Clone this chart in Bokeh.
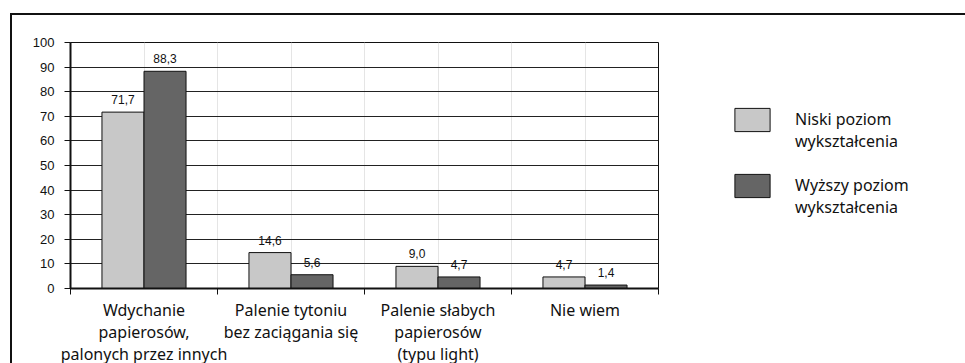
from bokeh.plotting import figure
from bokeh.models import (ColumnDataSource, Range1d, LinearAxis,
                          FixedTicker, Legend, LegendItem)
from bokeh.transform import dodge
from bokeh.core.properties import value
from bokeh.embed import file_html
from bokeh.resources import INLINE

# Survey answers and the share (%) for each education level
categories = [
    "Wdychanie\npapierosów,\npalonych przez innych",
    "Palenie tytoniu\nbez zaciągania się",
    "Palenie słabych\npapierosów\n(typu light)",
    "Nie wiem",
]
niski = [71.7, 14.6, 9.0, 4.7]
wyzszy = [88.3, 5.6, 4.7, 1.4]
series_names = ["Niski poziom\nwykształcenia", "Wyższy poziom\nwykształcenia"]
y_ticks = [0, 10, 20, 30, 40, 50, 60, 70, 80, 90, 100]


def fmt(v):
    return f"{v:.1f}".replace(".", ",")


n = len(categories)
centers = [i + 0.5 for i in range(n)]          # middle of each category slot
edges = list(range(n + 1))                      # slot boundaries

src = ColumnDataSource(dict(
    x=centers,
    niski=niski,
    wyzszy=wyzszy,
    niski_lbl=[fmt(v) for v in niski],
    wyzszy_lbl=[fmt(v) for v in wyzszy],
))

LIGHT = "#c8c8c8"
DARK = "#656565"
TEXT_FONT = "Noto Sans"
NUM_FONT = "Liberation Sans"

p = figure(
    x_range=Range1d(0, n),
    y_range=Range1d(0, 100),
    x_axis_location=None,
    frame_width=588, frame_height=246,
    min_border_left=58, min_border_right=307,
    min_border_top=27, min_border_bottom=75,
    output_backend="svg", toolbar_location=None,
    styles={"border-top": "2px solid #111", "border-left": "2px solid #111",
            "margin-left": "10px", "margin-top": "13px"},
)
p.outline_line_color = "#111"
p.outline_line_width = 1

# value axis
yax = p.yaxis[0]
yax.ticker = FixedTicker(ticks=y_ticks)
yax.minor_tick_line_color = None
yax.major_tick_in = 0
yax.major_tick_out = 6
yax.axis_line_width = 2
yax.axis_line_color = "#111"
yax.major_tick_line_color = "#111"
yax.major_label_text_font = NUM_FONT
yax.major_label_text_font_size = "13px"
yax.major_label_text_color = "#111"
yax.major_label_standoff = 10

p.ygrid.ticker = FixedTicker(ticks=y_ticks)
p.ygrid.grid_line_color = "#222"
p.ygrid.grid_line_width = 1

# ticks on the boundaries between groups
edge_axis = LinearAxis(ticker=FixedTicker(ticks=edges))
edge_axis.major_label_overrides = {e: "" for e in edges}
edge_axis.major_label_text_font_size = "1px"
edge_axis.major_label_standoff = 0
edge_axis.minor_tick_line_color = None
edge_axis.major_tick_in = 0
edge_axis.major_tick_out = 6
edge_axis.axis_line_width = 2
edge_axis.axis_line_color = "#111"
edge_axis.major_tick_line_color = "#111"
p.add_layout(edge_axis, "below")

# group names centred in each slot
cat_axis = LinearAxis(ticker=FixedTicker(ticks=centers))
cat_axis.major_label_overrides = {c: name for c, name in zip(centers, categories)}
cat_axis.axis_line_color = None
cat_axis.major_tick_line_color = None
cat_axis.minor_tick_line_color = None
cat_axis.major_tick_out = 0
cat_axis.major_tick_in = 0
cat_axis.major_label_standoff = 4
cat_axis.major_label_text_font = TEXT_FONT
cat_axis.major_label_text_font_size = "16px"
cat_axis.major_label_text_color = "#111"
cat_axis.major_label_text_line_height = 1.0
p.add_layout(cat_axis, "below")

bw = 0.286
r1 = p.vbar(x=dodge("x", -bw / 2), top="niski", width=bw,
            source=src, fill_color=LIGHT, line_color="#111", line_width=1)
r2 = p.vbar(x=dodge("x", bw / 2), top="wyzszy", width=bw,
            source=src, fill_color=DARK, line_color="#111", line_width=1)

for col, lbl, off in (("niski", "niski_lbl", -bw / 2), ("wyzszy", "wyzszy_lbl", bw / 2)):
    p.text(x=dodge("x", off), y=col, text=lbl, source=src,
           text_align="center", text_baseline="bottom", y_offset=-8,
           text_font=value(NUM_FONT), text_font_size="12px", text_color="#111")

# a blank first line keeps each swatch level with the first line of its label
legend = Legend(
    items=[LegendItem(label="\n" + series_names[0], renderers=[r1]),
           LegendItem(label="\n" + series_names[1], renderers=[r2])],
    location=(72, 70),
    glyph_width=44, glyph_height=29,
    label_standoff=21, spacing=-10, padding=0, margin=0,
    border_line_color=None, background_fill_alpha=0,
    label_text_font=TEXT_FONT, label_text_font_size="16px",
    label_text_color="#111", label_text_line_height=1.35,
)
p.add_layout(legend, "right")

open("out.html", "w").write(file_html(p, INLINE))
